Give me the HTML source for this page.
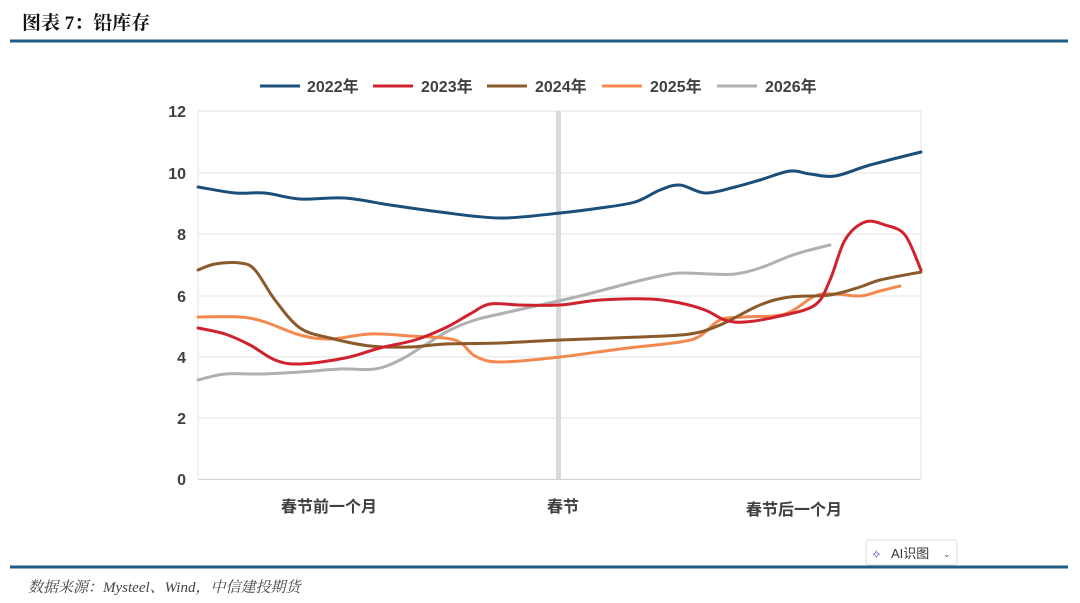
<!DOCTYPE html>
<html><head><meta charset="utf-8"><style>
body{margin:0;width:1080px;height:603px;background:#fff;overflow:hidden;font-family:"Liberation Sans","Noto Sans CJK SC",sans-serif;}
</style></head><body>
<svg id="s" width="1080" height="603" viewBox="0 0 1080 603" xmlns="http://www.w3.org/2000/svg" style="position:absolute;left:0;top:0">
<text x="22" y="29" font-family="'Liberation Serif','Noto Serif CJK SC',serif" font-size="19" font-weight="bold" fill="#111">图表 7：铅库存</text>
<rect x="10" y="39.5" width="1058" height="3" fill="#1f5c87"/>
<rect x="10" y="565.5" width="1058" height="3" fill="#1f5c87"/>
<text x="28" y="592" font-family="'Liberation Serif','Noto Serif CJK SC',serif" font-style="italic" font-size="15" fill="#444">数据来源：Mysteel、Wind，中信建投期货</text>
<rect x="866" y="540" width="91" height="25" rx="3" fill="#fff" stroke="#ddd"/>
<text x="872" y="558" font-size="13" fill="#7a4fd6">⟡</text>
<text x="891" y="558" font-size="13" fill="#333">AI识图</text>
<text x="943" y="557" font-size="9" fill="#555">⌄</text>
<g stroke="#e3e3e3" stroke-width="1">
<line x1="198" y1="111" x2="921" y2="111"/><line x1="198" y1="173" x2="921" y2="173"/><line x1="198" y1="234" x2="921" y2="234"/><line x1="198" y1="296" x2="921" y2="296"/><line x1="198" y1="357" x2="921" y2="357"/><line x1="198" y1="418" x2="921" y2="418"/>
<line x1="198" y1="111" x2="198" y2="479"/><line x1="921" y1="111" x2="921" y2="479"/>
</g>
<line x1="198" y1="479.5" x2="921" y2="479.5" stroke="#d0d0d0"/>
<rect x="556" y="111" width="5" height="368" fill="#d9d9d9"/>
<g font-size="16" font-weight="bold" fill="#404040" text-anchor="end">
<text x="186" y="117">12</text><text x="186" y="179">10</text><text x="186" y="240">8</text><text x="186" y="302">6</text><text x="186" y="363">4</text><text x="186" y="424">2</text><text x="186" y="485">0</text>
</g>
<g font-size="16" font-weight="bold" fill="#404040" text-anchor="middle">
<text x="329" y="512">春节前一个月</text><text x="563" y="512">春节</text><text x="794" y="515">春节后一个月</text>
</g>
<g font-size="16" font-weight="bold" fill="#404040" stroke-width="3">
<line x1="260" y1="86" x2="300" y2="86" stroke="#1b4f7a"/><text x="307" y="92">2022年</text>
<line x1="373" y1="86" x2="413" y2="86" stroke="#d0222e"/><text x="421" y="92">2023年</text>
<line x1="487" y1="86" x2="527" y2="86" stroke="#8b5a2b"/><text x="535" y="92">2024年</text>
<line x1="602" y1="86" x2="642" y2="86" stroke="#f4894f"/><text x="650" y="92">2025年</text>
<line x1="717" y1="86" x2="757" y2="86" stroke="#b0b0b0"/><text x="765" y="92">2026年</text>
</g>
<g id="lines" fill="none" stroke-width="3" stroke-linejoin="round" stroke-linecap="round">
<polyline stroke="#b0b0b0" points="198,380 225,374 260,374 300,372 340,369 375,369 400,360 425,345 450,330 475,320 500,314 540,305 580,296 630,283 660,276 680,273 710,274 735,274 760,268 790,256 810,250 830,245"/>
<polyline stroke="#f4894f" points="198,317 240,317 265,322 300,335 330,339 370,334 410,336 455,340 475,356 500,362 560,357 620,349 680,342 700,336 720,320 745,317 785,314 815,296 835,294 860,296 880,291 900,286"/>
<polyline stroke="#8b5a2b" points="198,270 215,264 240,263 255,270 275,300 300,328 330,338 370,346 410,347 445,344 500,343 560,340 640,337 690,334 720,325 760,305 790,297 830,295 860,287 880,280 921,272"/>
<polyline stroke="#d0222e" points="198,328 225,334 250,345 275,360 300,364 345,358 380,348 415,340 445,328 470,314 490,304 520,305 560,305 600,300 650,299 680,303 705,310 725,320 745,322 780,316 815,305 830,280 845,240 865,222 885,225 905,235 921,270"/>
<polyline stroke="#1b4f7a" points="198,187 235,193 265,193 300,199 345,198 390,205 440,212 500,218 560,213 600,208 635,202 660,190 680,185 705,193 735,187 760,180 790,171 810,174 835,176 870,165 921,152"/>
</g>
</svg>
<script>
(function(){
var ns="http://www.w3.org/2000/svg";
var pls=document.querySelectorAll('#lines polyline');
for(var k=0;k<pls.length;k++){
var pl=pls[k];var a=pl.getAttribute('points').trim().split(/\s+/).map(function(s){return s.split(',').map(Number);});
var d='M'+a[0][0]+','+a[0][1];
for(var i=0;i<a.length-1;i++){
var p0=a[i>0?i-1:i],p1=a[i],p2=a[i+1],p3=a[i+2<a.length?i+2:i+1];
var c1x=p1[0]+(p2[0]-p0[0])/6,c1y=p1[1]+(p2[1]-p0[1])/6,c2x=p2[0]-(p3[0]-p1[0])/6,c2y=p2[1]-(p3[1]-p1[1])/6;
d+=' C'+c1x.toFixed(1)+','+c1y.toFixed(1)+' '+c2x.toFixed(1)+','+c2y.toFixed(1)+' '+p2[0]+','+p2[1];}
var p=document.createElementNS(ns,'path');p.setAttribute('d',d);p.setAttribute('stroke',pl.getAttribute('stroke'));
pl.parentNode.replaceChild(p,pl);}
})();
</script>
</body></html>
